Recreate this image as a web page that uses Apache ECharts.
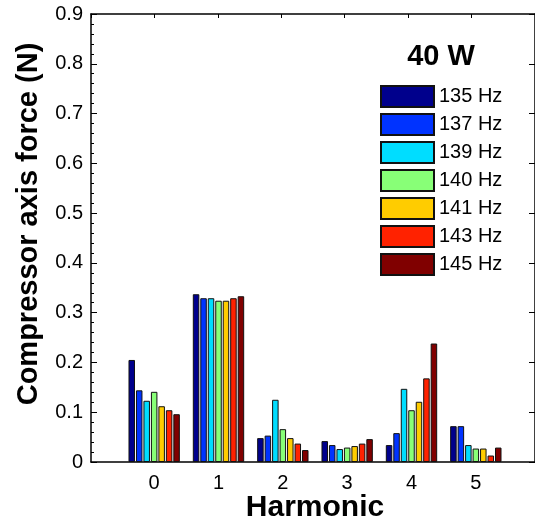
<!DOCTYPE html>
<html>
<head>
<meta charset="utf-8">
<script src="https://cdn.jsdelivr.net/npm/echarts@6/dist/echarts.min.js"></script>
<style>
html,body{margin:0;padding:0;background:#fff;}
#chart{width:535px;height:524px;}
</style>
</head>
<body>
<div id="chart"></div>
<script>
var harmonics = ['0', '1', '2', '3', '4', '5'];
var seriesNames = ['135 Hz', '137 Hz', '139 Hz', '140 Hz', '141 Hz', '143 Hz', '145 Hz'];
var f135 = [0.205, 0.337, 0.048, 0.042, 0.034, 0.072];
var f137 = [0.144, 0.329, 0.053, 0.034, 0.058, 0.072];
var f139 = [0.123, 0.329, 0.125, 0.026, 0.147, 0.034];
var f140 = [0.141, 0.324, 0.066, 0.029, 0.104, 0.027];
var f141 = [0.112, 0.324, 0.048, 0.032, 0.121, 0.027];
var f143 = [0.104, 0.329, 0.037, 0.037, 0.168, 0.013];
var f145 = [0.096, 0.333, 0.024, 0.046, 0.238, 0.029];
var colors = ['#00008C', '#0033FF', '#00DDFF', '#88FF77', '#FFCC00', '#FF2200', '#800000'];
var yTicks = { min: 0, max: 0.9, interval: 0.1 };
var xFrame = { min: -1, max: 6, interval: 1 };

var allData = [f135, f137, f139, f140, f141, f143, f145];
var FONT = 'Liberation Sans, Arial, sans-serif';

var series = allData.map(function (d, i) {
  return {
    name: seriesNames[i],
    type: 'bar',
    xAxisIndex: 1,
    yAxisIndex: 2,
    data: d,
    barWidth: 6.5,
    barGap: '15%',
    itemStyle: { color: colors[i], borderColor: '#111', borderWidth: 1 },
    emphasis: { disabled: true }
  };
});

var chart = echarts.init(document.getElementById('chart'), null, { renderer: 'canvas' });
chart.setOption({
  animation: false,
  backgroundColor: '#fff',
  grid: [
    { left: 91, top: 14, width: 449, height: 448 },
    { left: 122, top: 14, width: 386, height: 448 }
  ],
  xAxis: [
    {
      gridIndex: 0, type: 'value', position: 'bottom',
      min: xFrame.min, max: xFrame.max, interval: xFrame.interval,
      axisLine: { show: true, onZero: false, lineStyle: { color: '#000', width: 1.5 } },
      axisTick: { show: false }, axisLabel: { show: false }, splitLine: { show: false }
    },
    {
      gridIndex: 1, type: 'category', data: harmonics, boundaryGap: true,
      axisLine: { show: false, onZero: false }, axisTick: { show: false },
      axisLabel: { show: true, color: '#000', fontSize: 20, fontFamily: FONT, margin: 11 },
      splitLine: { show: false }
    },
    {
      gridIndex: 0, type: 'value', position: 'top',
      min: xFrame.min, max: xFrame.max, interval: xFrame.interval,
      axisLine: { show: true, onZero: false, lineStyle: { color: '#000', width: 1.5 } },
      axisTick: { show: true, inside: true, length: 4, lineStyle: { color: '#000', width: 1 } },
      axisLabel: { show: false }, splitLine: { show: false }
    }
  ],
  yAxis: [
    {
      gridIndex: 0, type: 'value', position: 'left',
      min: yTicks.min, max: yTicks.max, interval: yTicks.interval,
      axisLine: { show: true, onZero: false, lineStyle: { color: '#000', width: 1.5 } },
      axisTick: { show: true, inside: true, length: 6, lineStyle: { color: '#000', width: 1 } },
      minorTick: { show: true, splitNumber: 5, length: 3, lineStyle: { color: '#000', width: 1 } },
      axisLabel: { show: true, color: '#000', fontSize: 20, fontFamily: FONT, margin: 8,
        formatter: function (v) { return v === 0 ? '0' : v.toFixed(1); } },
      splitLine: { show: false }
    },
    {
      gridIndex: 0, type: 'value', position: 'right',
      min: yTicks.min, max: yTicks.max, interval: yTicks.interval,
      axisLine: { show: true, onZero: false, lineStyle: { color: '#000', width: 1.5 } },
      axisTick: { show: true, inside: true, length: 6, lineStyle: { color: '#000', width: 1 } },
      axisLabel: { show: false }, splitLine: { show: false }
    },
    {
      gridIndex: 1, type: 'value', min: yTicks.min, max: yTicks.max,
      show: false, splitLine: { show: false }
    }
  ],
  legend: {
    orient: 'vertical', left: 380, top: 85, padding: 0,
    itemWidth: 53, itemHeight: 21, itemGap: 5,
    icon: 'rect',
    selectedMode: false,
    textStyle: { color: '#000', fontSize: 20, fontFamily: FONT, lineHeight: 21 },
    data: seriesNames
  },
  graphic: [
    {
      type: 'text', x: 29, y: 224, rotation: Math.PI / 2,
      style: { text: 'Compressor axis force (N)', fill: '#000', font: 'bold 29px ' + FONT,
        textAlign: 'center', textVerticalAlign: 'middle' }
    },
    {
      type: 'text', x: 315, y: 508,
      style: { text: 'Harmonic', fill: '#000', font: 'bold 30px ' + FONT,
        textAlign: 'center', textVerticalAlign: 'middle' }
    },
    {
      type: 'text', x: 441, y: 57,
      style: { text: '40 W', fill: '#000', font: 'bold 29px ' + FONT,
        textAlign: 'center', textVerticalAlign: 'middle' }
    }
  ],
  series: series
});
</script>
</body>
</html>
